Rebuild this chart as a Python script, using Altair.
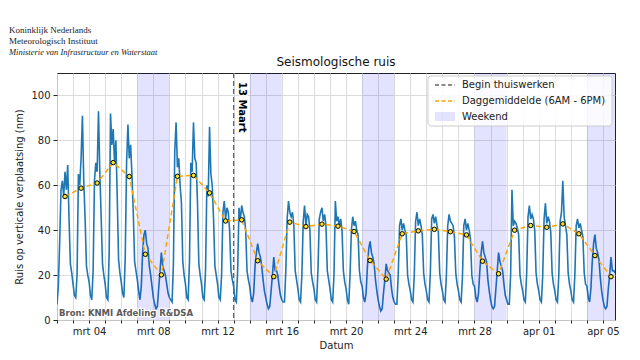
import altair as alt
import pandas as pd

# ---------------- data ----------------
start_day = "2020-03-02"
hours = [0, 2, 4, 6, 8, 10, 12, 14, 16, 18, 20, 22]

# seismic noise (nm), one row per day, values at the hours above
profiles = [
    [7, 15, 35, 58, 62, 55, 66, 58, 69, 45, 25, 21],    # mrt 02
    [16, 11, 10, 20, 65, 60, 72, 91, 62, 45, 24, 20],   # mrt 03
    [17, 11, 9, 22, 62, 70, 66, 93, 66, 46, 25, 20],    # mrt 04
    [16, 10, 9, 30, 92, 78, 85, 70, 80, 55, 27, 21],    # mrt 05
    [17, 12, 10, 28, 70, 87, 72, 78, 65, 48, 26, 22],   # mrt 06
    [18, 13, 9, 15, 30, 38, 40, 34, 32, 24, 20, 15],    # mrt 07
    [10, 7, 5, 6, 14, 22, 30, 24, 22, 20, 16, 12],      # mrt 08
    [10, 9, 8, 25, 75, 88, 68, 72, 60, 52, 26, 20],     # mrt 09
    [16, 10, 9, 26, 70, 66, 88, 72, 70, 52, 25, 20],    # mrt 10
    [16, 10, 9, 22, 60, 55, 86, 65, 60, 45, 24, 20],    # mrt 11
    [16, 10, 9, 20, 48, 53, 45, 50, 48, 40, 22, 18],    # mrt 12
    [15, 9, 8, 22, 50, 44, 51, 48, 46, 40, 22, 18],     # mrt 13
    [15, 10, 8, 12, 24, 30, 34, 30, 28, 24, 18, 13],    # mrt 14
    [10, 7, 5, 6, 13, 20, 28, 22, 22, 20, 15, 11],      # mrt 15
    [9, 8, 8, 22, 45, 53, 48, 46, 48, 42, 22, 18],      # mrt 16
    [14, 9, 8, 20, 44, 51, 42, 47, 46, 40, 21, 17],     # mrt 17
    [14, 9, 8, 22, 45, 48, 50, 44, 47, 42, 22, 18],     # mrt 18
    [14, 9, 8, 20, 53, 44, 46, 42, 45, 40, 22, 17],     # mrt 19
    [14, 9, 7, 20, 40, 46, 42, 44, 40, 38, 22, 17],     # mrt 20
    [15, 10, 8, 12, 24, 32, 35, 30, 28, 25, 18, 13],    # mrt 21
    [9, 6, 4, 5, 12, 18, 25, 22, 21, 20, 14, 10],       # mrt 22
    [8, 7, 7, 20, 42, 45, 40, 43, 40, 38, 20, 16],      # mrt 23
    [13, 9, 8, 20, 44, 48, 42, 45, 42, 38, 21, 16],     # mrt 24
    [13, 9, 8, 21, 45, 47, 43, 46, 42, 39, 21, 16],     # mrt 25
    [13, 9, 8, 20, 42, 47, 44, 43, 42, 37, 21, 16],     # mrt 26
    [13, 9, 8, 19, 42, 45, 40, 43, 40, 36, 20, 16],     # mrt 27
    [15, 10, 8, 12, 22, 30, 35, 30, 28, 26, 18, 13],    # mrt 28
    [9, 6, 5, 6, 14, 22, 30, 26, 24, 22, 16, 11],       # mrt 29
    [9, 7, 7, 20, 58, 42, 44, 43, 41, 38, 20, 16],      # mrt 30
    [13, 9, 8, 21, 46, 51, 45, 47, 45, 40, 21, 16],     # mrt 31
    [13, 9, 8, 20, 45, 52, 43, 46, 44, 39, 21, 16],     # apr 01
    [13, 9, 8, 20, 44, 48, 62, 46, 42, 38, 21, 16],     # apr 02
    [13, 9, 8, 20, 42, 45, 41, 43, 40, 37, 21, 16],     # apr 03
    [15, 10, 8, 14, 26, 34, 38, 32, 30, 27, 19, 13],    # apr 04
    [9, 6, 5, 6, 14, 20, 28, 22, 22, 21],               # apr 05
]

# daily means 6AM - 6PM (plotted at noon)
daily_mean = [55.0, 58.7, 61.0, 70.1, 63.9, 29.3, 20.1, 64.0, 64.4, 56.6,
              44.1, 44.6, 26.4, 19.3, 43.6, 41.6, 42.7, 41.8, 39.4, 26.5,
              18.2, 38.4, 39.7, 40.4, 39.3, 37.9, 26.2, 20.6, 40.0, 42.1,
              41.3, 42.8, 38.4, 28.7, 19.3]

weekend_start = ["2020-03-07", "2020-03-14", "2020-03-21", "2020-03-28", "2020-04-04"]
begin_thuiswerken = "2020-03-13"

major_ticks = ["03-04", "03-08", "03-12", "03-16", "03-20", "03-24", "03-28", "04-01", "04-05"]
y_ticks = [0, 20, 40, 60, 80, 100]

# ---------------- tables ----------------
days = pd.date_range(start_day, periods=len(profiles), freq="D")
rows = []
for d, prof in zip(days, profiles):
    for h, v in zip(hours, prof):
        rows.append({"tijd": (d + pd.Timedelta(hours=h)).strftime("%Y-%m-%dT%H:%M:%S"), "ruis": v})
noise_df = pd.DataFrame(rows)

mean_df = pd.DataFrame({
    "tijd": [(d + pd.Timedelta(hours=12)).strftime("%Y-%m-%dT%H:%M:%S") for d in days],
    "gem": daily_mean,
})

we_df = pd.DataFrame({
    "start": [s + "T00:00:00" for s in weekend_start],
    "eind": [(pd.Timestamp(s) + pd.Timedelta(days=2)).strftime("%Y-%m-%dT%H:%M:%S") for s in weekend_start],
})
begin_df = pd.DataFrame({"datum": [begin_thuiswerken + "T00:00:00"]})
one = pd.DataFrame({"a": [0]})

# ---------------- style ----------------
FONT = "DejaVu Sans"
W, H = 558, 247

x_scale = alt.Scale(domain=[alt.DateTime(year=2020, month=3, date=2, hours=0),
                            alt.DateTime(year=2020, month=4, date=5, hours=18)])
y_scale = alt.Scale(domain=[0, 110], nice=False, zero=False)

is_major = "indexof(" + str(major_ticks) + ", timeFormat(datum.value, '%m-%d')) >= 0"
x_axis = alt.Axis(
    values=[alt.DateTime(year=d.year, month=d.month, date=d.day) for d in days],
    labelExpr=is_major + " ? (month(datum.value) == 2 ? 'mrt ' : 'apr ') + timeFormat(datum.value, '%d') : ''",
    tickSize=3,
    grid=True, gridColor="#d8d8d8", gridWidth=0.9,
    domain=False, tickColor="#222", labelColor="#222", labelFont=FONT, labelFontSize=10,
    labelPadding=3, labelAngle=0, labelFlush=False, labelOverlap=False,
    title="Datum", titleFont=FONT, titleFontSize=10, titleFontWeight="normal",
    titleColor="#222", titlePadding=4,
)
y_axis = alt.Axis(
    values=y_ticks, grid=True, gridColor="#d8d8d8", gridWidth=0.9,
    domain=False, tickColor="#222", tickSize=4, labelColor="#222", labelFont=FONT,
    labelFontSize=10, labelPadding=3,
    title="Ruis op verticale verplaatsing (nm)", titleFont=FONT, titleFontSize=10,
    titleFontWeight="normal", titleColor="#222", titlePadding=6,
)


def X(field):
    return alt.X(field, scale=x_scale, axis=x_axis)


def Y(field):
    return alt.Y(field, scale=y_scale, axis=y_axis)


noise = alt.Chart(noise_df).mark_line(color="#1f77b4", strokeWidth=1.6, clip=True).encode(
    x=X("tijd:T"), y=Y("ruis:Q"),
)

weekend = alt.Chart(we_df).mark_rect(color="#0000ff", opacity=0.11, clip=True).encode(
    x=X("start:T"), x2="eind:T",
)

mean_line = alt.Chart(mean_df).mark_line(color="#ffa500", strokeWidth=1.5, strokeDash=[5, 3]).encode(
    x=X("tijd:T"), y=Y("gem:Q"),
)
mean_pts = alt.Chart(mean_df).mark_point(filled=True, fill="#f5e12a", stroke="black",
                                         strokeWidth=1, size=20, opacity=1).encode(
    x=X("tijd:T"), y=Y("gem:Q"),
)

begin_rule = alt.Chart(begin_df).mark_rule(color="#666", strokeWidth=1.3, strokeDash=[5, 3]).encode(
    x=X("datum:T"),
)
begin_halo = alt.Chart(begin_df).mark_text(
    text="13 Maart", angle=90, align="left", baseline="bottom", dy=-3, font=FONT,
    fontSize=10, fontWeight="bold", stroke="white", strokeWidth=2.5, color="white",
).encode(x=X("datum:T"), y=alt.value(9))
begin_text = alt.Chart(begin_df).mark_text(
    text="13 Maart", angle=90, align="left", baseline="bottom", dy=-3, font=FONT,
    fontSize=10, fontWeight="bold", color="black",
).encode(x=X("datum:T"), y=alt.value(9))

# source
src_halo = alt.Chart(one).mark_text(
    text="Bron: KNMI Afdeling R&DSA", align="left", baseline="middle", font=FONT,
    fontSize=8.5, fontWeight="bold", stroke="white", strokeWidth=2.2, color="white",
).encode(x=alt.value(2), y=alt.value(240))
src_text = alt.Chart(one).mark_text(
    text="Bron: KNMI Afdeling R&DSA", align="left", baseline="middle", font=FONT,
    fontSize=8.5, fontWeight="bold", color="#5a5a5a",
).encode(x=alt.value(2), y=alt.value(240))

# legend
LX, LY = 371, 3
leg_box = alt.Chart(one).mark_rect(fill="white", fillOpacity=0.85, stroke="#cccccc",
                                   strokeWidth=1, cornerRadius=3).encode(
    x=alt.value(LX), x2=alt.value(LX + 184), y=alt.value(LY), y2=alt.value(LY + 50))
leg_l1 = alt.Chart(one).mark_rule(color="#666", strokeWidth=1.3, strokeDash=[4, 2.5]).encode(
    x=alt.value(LX + 7), x2=alt.value(LX + 27), y=alt.value(LY + 9))
leg_l2 = alt.Chart(one).mark_rule(color="#ffa500", strokeWidth=1.5, strokeDash=[4, 2.5]).encode(
    x=alt.value(LX + 7), x2=alt.value(LX + 27), y=alt.value(LY + 25))
leg_p3 = alt.Chart(one).mark_rect(fill="#0000ff", fillOpacity=0.11).encode(
    x=alt.value(LX + 7), x2=alt.value(LX + 27), y=alt.value(LY + 36), y2=alt.value(LY + 45))
leg_texts = []
for i, t in enumerate(["Begin thuiswerken", "Daggemiddelde (6AM - 6PM)", "Weekend"]):
    leg_texts.append(alt.Chart(one).mark_text(
        text=t, align="left", baseline="middle", font=FONT, fontSize=10, color="#222",
    ).encode(x=alt.value(LX + 34), y=alt.value(LY + 9 + 16 * i)))

# title + logo text
title = alt.Chart(one).mark_text(
    text="Seismologische ruis", align="center", baseline="middle", font=FONT,
    fontSize=12, color="#111",
).encode(x=alt.value(W / 2), y=alt.value(-11))
logo = []
for i, (t, style, fs) in enumerate([
    ("Koninklijk Nederlands", "normal", 9),
    ("Meteorologisch Instituut", "normal", 9),
    ("Ministerie van Infrastructuur en Waterstaat", "italic", 8.5),
]):
    logo.append(alt.Chart(one).mark_text(
        text=t, align="left", baseline="middle", font="Liberation Serif",
        fontSize=fs, fontStyle=style, color="#222",
    ).encode(x=alt.value(-48), y=alt.value(-43 + 11 * i)))

chart = alt.layer(
    noise, weekend, mean_line, mean_pts, begin_rule, begin_halo, begin_text,
    src_halo, src_text, leg_box, leg_l1, leg_l2, leg_p3, *leg_texts, title, *logo,
).properties(
    width=W, height=H,
    autosize=alt.AutoSizeParams(type="none"),
    padding={"left": 49, "top": 65, "right": 17, "bottom": 31},
    background="white",
).configure_view(stroke="#222", strokeWidth=1)

chart.save("out.html", embed_options={"renderer": "svg", "actions": False})
